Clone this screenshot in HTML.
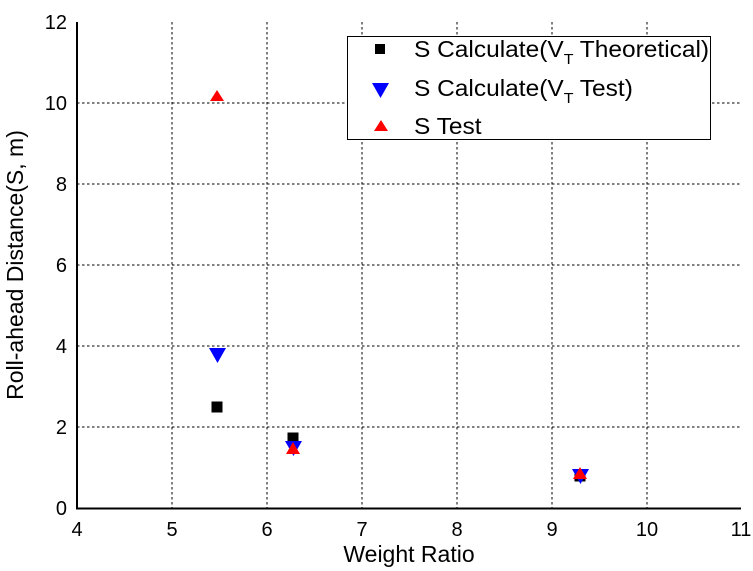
<!DOCTYPE html>
<html><head><style>body{margin:0;background:#fff}svg{display:block}text{font-family:"Liberation Sans",Arial,sans-serif}</style></head>
<body>
<svg width="753" height="571" viewBox="0 0 753 571" xmlns="http://www.w3.org/2000/svg">
<g stroke="#000" stroke-width="1" stroke-dasharray="2.5,2.5">
<line x1="172" y1="22" x2="172" y2="508"/><line x1="267" y1="22" x2="267" y2="508"/><line x1="362" y1="22" x2="362" y2="508"/><line x1="457" y1="22" x2="457" y2="508"/><line x1="552" y1="22" x2="552" y2="508"/><line x1="647" y1="22" x2="647" y2="508"/>
<line x1="77" y1="103" x2="741" y2="103"/><line x1="77" y1="184" x2="741" y2="184"/><line x1="77" y1="265" x2="741" y2="265"/><line x1="77" y1="346" x2="741" y2="346"/><line x1="77" y1="427" x2="741" y2="427"/>
</g>
<line x1="77" y1="22" x2="77" y2="509.5" stroke="#000" stroke-width="2"/>
<line x1="76" y1="508.5" x2="741" y2="508.5" stroke="#000" stroke-width="2"/>
<g font-size="20" text-anchor="end"><text x="67" y="515">0</text><text x="67" y="434">2</text><text x="67" y="353">4</text><text x="67" y="272">6</text><text x="67" y="191">8</text><text x="67" y="110">10</text><text x="67" y="29">12</text></g>
<g font-size="20" text-anchor="middle"><text x="77" y="536">4</text><text x="172" y="536">5</text><text x="267" y="536">6</text><text x="362" y="536">7</text><text x="457" y="536">8</text><text x="552" y="536">9</text><text x="647" y="536">10</text><text x="741" y="536">11</text></g>
<text x="409" y="562" font-size="23" text-anchor="middle">Weight Ratio</text>
<text transform="translate(23,265) rotate(-90)" font-size="23" text-anchor="middle">Roll-ahead Distance(S, m)</text>
<rect x="211.5" y="401.5" width="11" height="11" fill="#000"/>
<rect x="287.5" y="432.5" width="11" height="11" fill="#000"/>
<rect x="574.5" y="470.5" width="11" height="11" fill="#000"/>
<polygon points="209,348 226,348 217.5,363" fill="#0000ff"/>
<polygon points="285,441 302,441 293.5,456" fill="#0000ff"/>
<polygon points="572,469 589,469 580.5,484" fill="#0000ff"/>
<polygon points="210,101 224,101 217,90" fill="#ff0000"/>
<polygon points="286,454 300,454 293,442" fill="#ff0000"/>
<polygon points="573,479 587,479 580,467" fill="#ff0000"/>
<rect x="347.5" y="36.5" width="363" height="103" fill="#fff" stroke="#000" stroke-width="1"/>
<rect x="375" y="44" width="10" height="10" fill="#000"/>
<polygon points="372,83 389,83 380.5,98" fill="#0000ff"/>
<polygon points="374,131 388,131 381,120" fill="#ff0000"/>
<g font-size="23" transform="translate(414,0) scale(1.065,1) translate(-414,0)"><text x="414" y="57">S Calculate(V<tspan font-size="15" dy="7">T</tspan><tspan dy="-7"> Theoretical)</tspan></text>
<text x="414" y="96">S Calculate(V<tspan font-size="15" dy="7">T</tspan><tspan dy="-7"> Test)</tspan></text>
<text x="414" y="134">S Test</text></g>
</svg>
</body></html>
